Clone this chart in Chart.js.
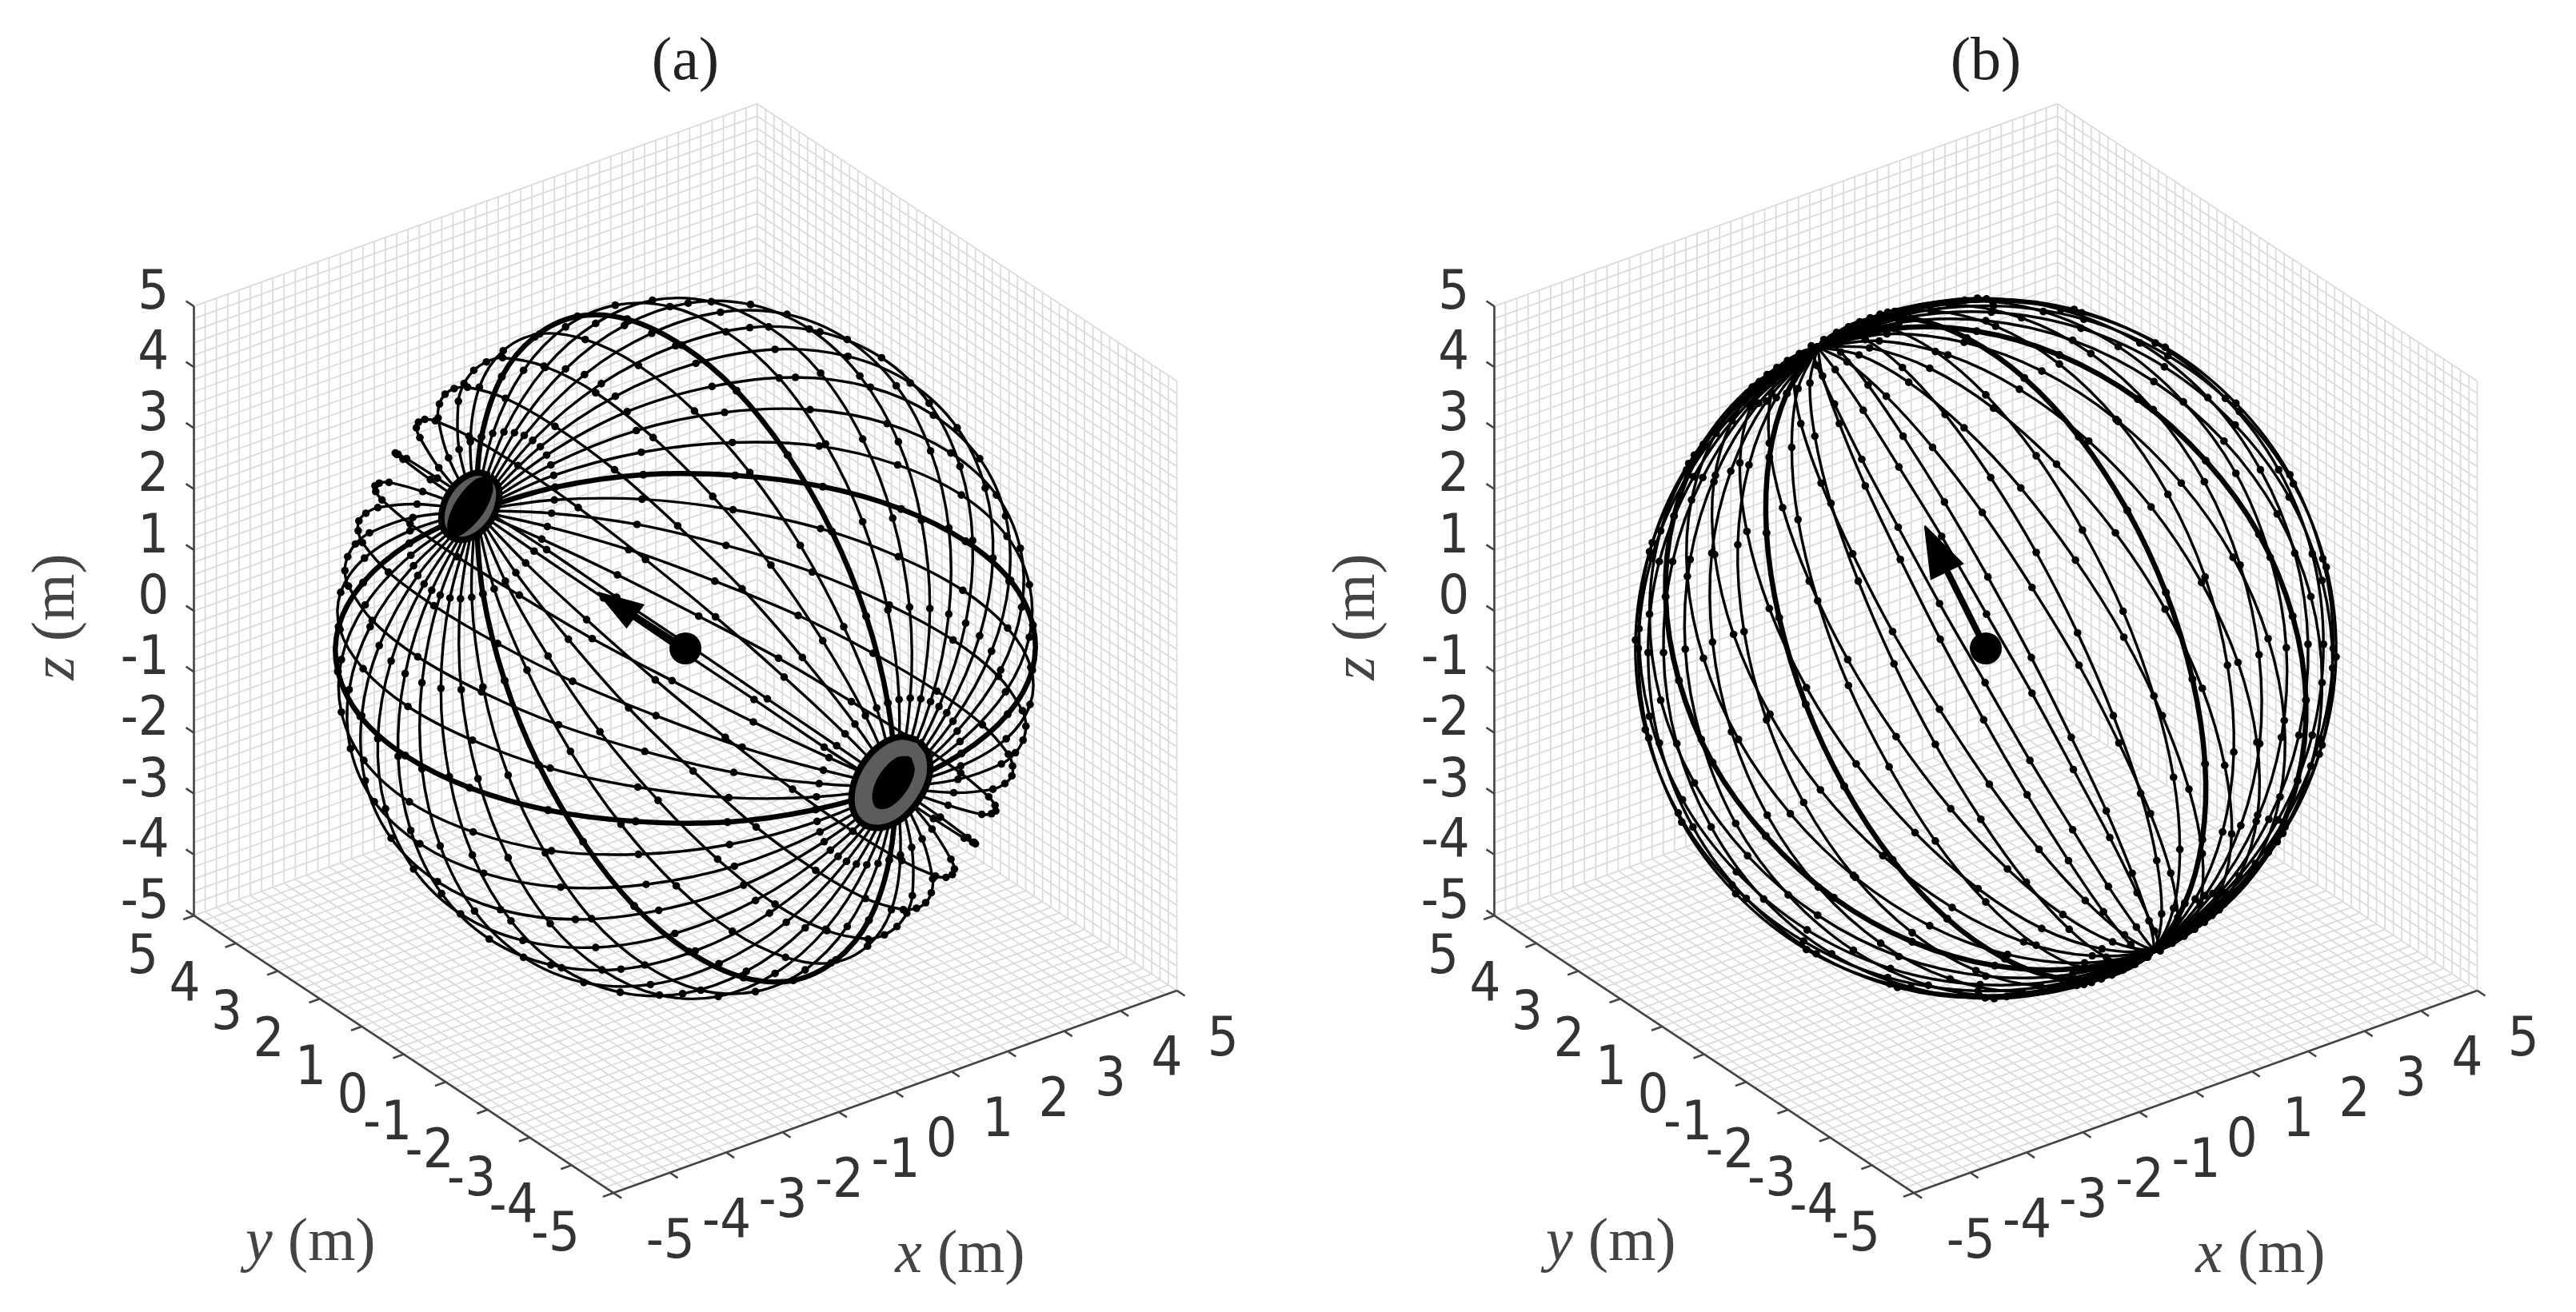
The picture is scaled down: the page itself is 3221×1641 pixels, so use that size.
<!DOCTYPE html>
<html><head><meta charset="utf-8">
<style>html,body{margin:0;padding:0;background:#fff;width:3221px;height:1641px;overflow:hidden}
canvas{position:absolute;top:0;filter:blur(.7px)}</style>
<script src="https://cdn.jsdelivr.net/npm/chart.js@4"></script></head><body>
<canvas id="ca" width="1610" height="1641" style="left:0"></canvas>
<canvas id="cb" width="1611" height="1641" style="left:1610px"></canvas>
<script>
// Projected positions (m in the view plane, sphere centre = 0,0): u,v,u,v,...
const a01=[-3,1.97,-3.64,2.41,-4.03,2.7,-4.12,2.77,-4.14,2.79,-4.1,2.77,-3.98,2.71,-3.54,2.43,-2.86,1.98,-1.98,1.41,-.98,.73,.1,.01,1.17,-.72,2.16,-1.39,3,-1.97,3.64,-2.41,4.03,-2.7,4.12,-2.77,4.14,-2.79,4.1,-2.77,3.98,-2.71,3.54,-2.43,2.86,-1.98,1.98,-1.41,.98,-.73,-.1,-.01,-1.17,.72,-2.16,1.39];
const a02=[-3,1.97,-3.52,2.58,-3.79,3.01,-3.84,3.15,-3.81,3.23,-3.72,3.27,-3.57,3.25,-3.09,3.03,-2.39,2.61,-1.53,2.01,-.57,1.27,.43,.45,1.41,-.41,2.28,-1.22,3,-1.97,3.52,-2.58,3.79,-3.01,3.84,-3.15,3.81,-3.23,3.72,-3.27,3.57,-3.25,3.09,-3.03,2.39,-2.61,1.53,-2.01,.57,-1.27,-.43,-.45,-1.41,.41,-2.28,1.22];
const a03=[-3,1.97,-3.38,2.72,-3.53,3.29,-3.51,3.49,-3.43,3.63,-3.3,3.71,-3.11,3.73,-2.57,3.57,-1.86,3.17,-1.01,2.55,-.11,1.75,.81,.85,1.67,-.13,2.42,-1.08,3,-1.97,3.38,-2.72,3.53,-3.29,3.51,-3.49,3.43,-3.63,3.3,-3.71,3.11,-3.73,2.57,-3.57,1.86,-3.17,1.01,-2.55,.11,-1.75,-.81,-.85,-1.67,.13,-2.42,1.08];
const a04=[-3,1.97,-3.23,2.84,-3.24,3.53,-3.16,3.78,-3.02,3.97,-2.84,4.09,-2.61,4.15,-2.02,4.03,-1.28,3.65,-.46,3.01,.39,2.17,1.22,1.19,1.96,.11,2.57,-.96,3,-1.97,3.23,-2.84,3.24,-3.53,3.16,-3.78,3.02,-3.97,2.84,-4.09,2.61,-4.15,2.02,-4.03,1.28,-3.65,.46,-3.01,-.39,-2.17,-1.22,-1.19,-1.96,-.11,-2.57,.96];
const a05=[-3,1.97,-3.07,2.95,-2.94,3.73,-2.6,4.25,-2.08,4.49,-1.43,4.41,-.67,4.04,.13,3.39,.92,2.51,1.64,1.47,2.26,.31,2.73,-.85,3,-1.97,3.07,-2.95,2.94,-3.73,2.6,-4.25,2.08,-4.49,1.43,-4.41,.67,-4.04,-.13,-3.39,-.92,-2.51,-1.64,-1.47,-2.26,-.31,-2.73,.85];
const a06=[-3,1.97,-2.91,3.02,-2.62,3.88,-2.15,4.45,-1.54,4.74,-.83,4.7,-.05,4.33,.73,3.68,1.46,2.76,2.09,1.67,2.58,.46,2.89,-.78,3,-1.97,2.91,-3.02,2.62,-3.88,2.15,-4.45,1.54,-4.74,.83,-4.7,.05,-4.33,-.73,-3.68,-1.46,-2.76,-2.09,-1.67,-2.58,-.46,-2.89,.78];
const a07=[-3,1.97,-2.75,3.07,-2.31,3.97,-1.71,4.59,-1,4.9,-.22,4.88,.58,4.52,1.34,3.86,2,2.92,2.53,1.81,2.89,.55,3.05,-.73,3,-1.97,2.75,-3.07,2.31,-3.97,1.71,-4.59,1,-4.9,.22,-4.88,-.58,-4.52,-1.34,-3.86,-2,-2.92,-2.53,-1.81,-2.89,-.55,-3.05,.73];
const a08=[-3,1.97,-2.59,3.09,-2,4.01,-1.28,4.64,-.47,4.97,.37,4.95,1.19,4.59,1.93,3.93,2.53,2.99,2.96,1.86,3.2,.59,3.21,-.71,3,-1.97,2.59,-3.09,2,-4.01,1.28,-4.64,.47,-4.97,-.37,-4.95,-1.19,-4.59,-1.93,-3.93,-2.53,-2.99,-2.96,-1.86,-3.2,-.59,-3.21,.71];
const a09=[-3,1.97,-2.44,3.08,-1.71,3.99,-.87,4.61,.04,4.93,.93,4.91,1.77,4.56,2.49,3.89,3.04,2.95,3.37,1.83,3.49,.57,3.36,-.72,3,-1.97,2.44,-3.08,1.71,-3.99,.87,-4.61,-.04,-4.93,-.93,-4.91,-1.77,-4.56,-2.49,-3.89,-3.04,-2.95,-3.37,-1.83,-3.49,-.57,-3.36,.72];
const a10=[-3,1.97,-2.3,3.04,-1.44,3.91,-.48,4.5,.5,4.8,1.45,4.77,2.31,4.41,3.01,3.75,3.5,2.82,3.76,1.72,3.76,.49,3.5,-.76,3,-1.97,2.3,-3.04,1.44,-3.91,.48,-4.5,-.5,-4.8,-1.45,-4.77,-2.31,-4.41,-3.01,-3.75,-3.5,-2.82,-3.76,-1.72,-3.76,-.49,-3.5,.76];
const a11=[-3,1.97,-2.18,2.97,-1.2,3.78,-.14,4.32,.92,4.58,1.92,4.52,2.8,4.15,3.48,3.5,3.92,2.6,4.1,1.54,4,.36,3.62,-.83,3,-1.97,2.18,-2.97,1.2,-3.78,.14,-4.32,-.92,-4.58,-1.92,-4.52,-2.8,-4.15,-3.48,-3.5,-3.92,-2.6,-4.1,-1.54,-4,-.36,-3.62,.83];
const a12=[-3,1.97,-2.07,2.88,-1,3.6,.15,4.07,1.28,4.27,2.32,4.17,3.21,3.79,3.88,3.15,4.28,2.29,4.39,1.29,4.2,.18,3.73,-.92,3,-1.97,2.07,-2.88,1,-3.6,-.15,-4.07,-1.28,-4.27,-2.32,-4.17,-3.21,-3.79,-3.88,-3.15,-4.28,-2.29,-4.39,-1.29,-4.2,-.18,-3.73,.92];
const a13=[-3,1.97,-1.98,2.76,-.83,3.38,.38,3.74,1.57,3.87,2.64,3.73,3.54,3.33,4.2,2.71,4.57,1.89,4.62,.96,4.37,-.04,3.82,-1.04,3,-1.97,1.98,-2.76,.83,-3.38,-.38,-3.74,-1.57,-3.87,-2.64,-3.73,-3.54,-3.33,-4.2,-2.71,-4.57,-1.89,-4.62,-.96,-4.37,.04,-3.82,1.04];
const a14=[-3,1.97,-1.92,2.62,-.7,3.11,.56,3.37,1.78,3.41,2.88,3.21,3.79,2.79,4.44,2.19,4.78,1.43,4.8,.59,4.5,-.31,3.88,-1.18,3,-1.97,1.92,-2.62,.7,-3.11,-.56,-3.37,-1.78,-3.41,-2.88,-3.21,-3.79,-2.79,-4.44,-2.19,-4.78,-1.43,-4.8,-.59,-4.5,.31,-3.88,1.18];
const a15=[-3,1.97,-1.88,2.47,-.63,2.8,.67,2.94,1.91,2.89,3.03,2.62,3.94,2.19,4.59,1.6,4.91,.91,4.91,.16,4.57,-.62,3.92,-1.33,3,-1.97,1.88,-2.47,.63,-2.8,-.67,-2.94,-1.91,-2.89,-3.03,-2.62,-3.94,-2.19,-4.59,-1.6,-4.91,-.91,-4.91,-.16,-4.57,.62,-3.92,1.33];
const a16=[-3,1.97,-1.86,2.3,-.6,2.48,.71,2.47,1.96,2.31,3.08,1.99,4,1.53,4.64,.97,4.96,.33,4.95,-.31,4.6,-.94,3.94,-1.5,3,-1.97,1.86,-2.3,.6,-2.48,-.71,-2.47,-1.96,-2.31,-3.08,-1.99,-4,-1.53,-4.64,-.97,-4.96,-.33,-4.95,.31,-4.6,.94,-3.94,1.5];
const a17=[-3,1.97,-1.87,2.12,-.62,2.13,.68,1.98,1.93,1.71,3.04,1.31,3.96,.83,4.6,.29,4.93,-.27,4.92,-.8,4.58,-1.29,3.93,-1.68,3,-1.97,1.87,-2.12,.62,-2.13,-.68,-1.98,-1.93,-1.71,-3.04,-1.31,-3.96,-.83,-4.6,-.29,-4.93,.27,-4.92,.8,-4.58,1.29,-3.93,1.68];
const a18=[-3,1.97,-1.91,1.93,-.69,1.77,.58,1.47,1.81,1.09,2.91,.62,3.82,.12,4.47,-.4,4.81,-.89,4.86,-1.11,4.82,-1.31,4.71,-1.49,4.51,-1.65,3.89,-1.87,3,-1.97,1.91,-1.93,.69,-1.77,-.58,-1.47,-1.81,-1.09,-2.91,-.62,-3.82,-.12,-4.47,.4,-4.81,.89,-4.86,1.11,-4.82,1.31,-4.71,1.49,-4.51,1.65,-3.89,1.87];
const a19=[-3,1.97,-1.97,1.74,-.81,1.41,.42,.96,1.61,.47,2.68,-.07,3.59,-.61,4.24,-1.09,4.61,-1.51,4.67,-1.68,4.66,-1.82,4.56,-1.93,4.39,-2.01,3.83,-2.06,3,-1.97,1.97,-1.74,.81,-1.41,-.42,-.96,-1.61,-.47,-2.68,.07,-3.59,.61,-4.24,1.09,-4.61,1.51,-4.67,1.68,-4.66,1.82,-4.56,1.93,-4.39,2.01,-3.83,2.06];
const a20=[-3,1.97,-2.05,1.56,-.97,1.05,.19,.46,1.33,-.14,2.37,-.76,3.26,-1.31,3.93,-1.78,4.33,-2.12,4.42,-2.24,4.43,-2.32,4.37,-2.36,4.23,-2.37,3.75,-2.24,3,-1.97,2.05,-1.56,.97,-1.05,-.19,-.46,-1.33,.14,-2.37,.76,-3.26,1.31,-3.93,1.78,-4.33,2.12,-4.42,2.24,-4.43,2.32,-4.37,2.36,-4.23,2.37,-3.75,2.24];
const b01=[-2.4,4.3,-1.2,4.79,.09,4.96,1.37,4.79,2.56,4.3,3.57,3.5,4.34,2.48,4.81,1.28,4.96,0,4.77,-1.29,4.25,-2.48,3.44,-3.51,2.4,-4.3,1.2,-4.79,-.09,-4.96,-1.37,-4.79,-2.56,-4.3,-3.57,-3.5,-4.34,-2.48,-4.81,-1.28,-4.96,0,-4.77,1.29,-4.25,2.48,-3.44,3.51];
const b02=[-2.4,4.3,-1.24,4.81,.01,4.99,1.26,4.84,2.42,4.36,3.42,3.57,4.18,2.55,4.66,1.35,4.82,.06,4.66,-1.24,4.17,-2.45,3.4,-3.49,2.4,-4.3,1.24,-4.81,-.01,-4.99,-1.26,-4.84,-2.42,-4.36,-3.42,-3.57,-4.18,-2.55,-4.66,-1.35,-4.82,-.06,-4.66,1.24,-4.17,2.45,-3.4,3.49];
const b03=[-2.4,4.3,-1.3,4.81,-.12,5,1.07,4.84,2.2,4.36,3.17,3.58,3.92,2.55,4.41,1.36,4.6,.06,4.47,-1.24,4.04,-2.44,3.34,-3.49,2.4,-4.3,1.3,-4.81,.12,-5,-1.07,-4.84,-2.2,-4.36,-3.17,-3.58,-3.92,-2.55,-4.41,-1.36,-4.6,-.06,-4.47,1.24,-4.04,2.44,-3.34,3.49];
const b04=[-2.4,4.3,-1.4,4.8,-.3,4.97,.82,4.81,1.89,4.31,2.82,3.52,3.57,2.5,4.06,1.3,4.29,.01,4.22,-1.27,3.86,-2.47,3.24,-3.5,2.4,-4.3,1.4,-4.8,.3,-4.97,-.82,-4.81,-1.89,-4.31,-2.82,-3.52,-3.57,-2.5,-4.06,-1.3,-4.29,-.01,-4.22,1.27,-3.86,2.47,-3.24,3.5];
const b05=[-2.4,4.3,-1.51,4.77,-.52,4.91,.51,4.72,1.5,4.21,2.39,3.41,3.12,2.38,3.63,1.19,3.9,-.09,3.91,-1.36,3.64,-2.53,3.13,-3.53,2.4,-4.3,1.51,-4.77,.52,-4.91,-.51,-4.72,-1.5,-4.21,-2.39,-3.41,-3.12,-2.38,-3.63,-1.19,-3.9,.09,-3.91,1.36,-3.64,2.53,-3.13,3.53];
const b06=[-2.4,4.3,-1.65,4.72,-.78,4.82,.14,4.6,1.05,4.06,1.89,3.24,2.6,2.2,3.13,1.02,3.45,-.24,3.54,-1.48,3.38,-2.62,2.99,-3.58,2.4,-4.3,1.65,-4.72,.78,-4.82,-.14,-4.6,-1.05,-4.06,-1.89,-3.24,-2.6,-2.2,-3.13,-1.02,-3.45,.24,-3.54,1.48,-3.38,2.62,-2.99,3.58];
const b07=[-2.4,4.3,-1.8,4.66,-1.07,4.71,-.27,4.43,.55,3.86,1.33,3.02,2.02,1.97,2.57,.8,2.95,-.44,3.13,-1.65,3.09,-2.73,2.84,-3.64,2.4,-4.3,1.8,-4.66,1.07,-4.71,.27,-4.43,-.55,-3.86,-1.33,-3.02,-2.02,-1.97,-2.57,-.8,-2.95,.44,-3.13,1.65,-3.09,2.73,-2.84,3.64];
const b08=[-2.4,4.3,-1.96,4.59,-1.39,4.57,-.72,4.24,0,3.62,.72,2.75,1.38,1.69,1.96,.53,2.4,-.68,2.68,-1.84,2.77,-2.87,2.68,-3.71,2.4,-4.3,1.96,-4.59,1.39,-4.57,.72,-4.24,0,-3.62,-.72,-2.75,-1.38,-1.69,-1.96,-.53,-2.4,.68,-2.68,1.84,-2.77,2.87,-2.68,3.71];
const b09=[-2.4,4.3,-2.13,4.51,-1.72,4.41,-1.19,4.01,-.58,3.34,.07,2.44,.72,1.37,1.31,.22,1.82,-.96,2.21,-2.07,2.44,-3.03,2.51,-3.79,2.4,-4.3,2.13,-4.51,1.72,-4.41,1.19,-4.01,.58,-3.34,-.07,-2.44,-.72,-1.37,-1.31,-.22,-1.82,.96,-2.21,2.07,-2.44,3.03,-2.51,3.79];
const b10=[-2.4,4.3,-2.31,4.41,-2.07,4.23,-1.68,3.76,-1.18,3.03,-.59,2.09,.03,1.02,.65,-.13,1.22,-1.27,1.72,-2.32,2.09,-3.21,2.33,-3.89,2.4,-4.3,2.31,-4.41,2.07,-4.23,1.68,-3.76,1.18,-3.03,.59,-2.09,-.03,-1.02,-.65,.13,-1.22,1.27,-1.72,2.32,-2.09,3.21,-2.33,3.89];
const b11=[-2.4,4.3,-2.49,4.32,-2.41,4.04,-2.16,3.49,-1.77,2.7,-1.25,1.73,-.66,.64,-.01,-.49,.63,-1.6,1.24,-2.59,1.75,-3.4,2.15,-3.98,2.4,-4.3,2.49,-4.32,2.41,-4.04,2.16,-3.49,1.77,-2.7,1.25,-1.73,.66,-.64,.01,.49,-.63,1.6,-1.24,2.59,-1.75,3.4,-2.15,3.98];
const b12=[-2.4,4.3,-2.66,4.21,-2.74,3.84,-2.64,3.21,-2.35,2.36,-1.9,1.35,-1.33,.24,-.66,-.87,.05,-1.94,.76,-2.87,1.42,-3.6,1.98,-4.09,2.4,-4.3,2.66,-4.21,2.74,-3.84,2.64,-3.21,2.35,-2.36,1.9,-1.35,1.33,-.24,.66,.87,-.05,1.94,-.76,2.87,-1.42,3.6,-1.98,4.09];
const b13=[-2.4,4.3,-2.83,4.11,-3.06,3.64,-3.09,2.93,-2.9,2.01,-2.52,.96,-1.97,-.16,-1.28,-1.26,-.5,-2.29,.31,-3.15,1.1,-3.8,1.81,-4.19,2.4,-4.3,2.83,-4.11,3.06,-3.64,3.09,-2.93,2.9,-2.01,2.52,-.96,1.97,.16,1.28,1.26,.5,2.29,-.31,3.15,-1.1,3.8,-1.81,4.19];
const b14=[-2.4,4.3,-2.98,4.01,-3.36,3.44,-3.51,2.65,-3.41,1.67,-3.09,.57,-2.56,-.56,-1.85,-1.65,-1.01,-2.63,-.11,-3.43,.8,-4,1.66,-4.29,2.4,-4.3,2.98,-4.01,3.36,-3.44,3.51,-2.65,3.41,-1.67,3.09,-.57,2.56,.56,1.85,1.65,1.01,2.63,.11,3.43,-.8,4,-1.66,4.29];
const b15=[-2.4,4.3,-3.12,3.91,-3.62,3.25,-3.88,2.38,-3.87,1.34,-3.6,.2,-3.08,-.94,-2.36,-2.02,-1.47,-2.96,-.48,-3.7,.54,-4.19,1.52,-4.39,2.4,-4.3,3.12,-3.91,3.62,-3.25,3.88,-2.38,3.87,-1.34,3.6,-.2,3.08,.94,2.36,2.02,1.47,2.96,.48,3.7,-.54,4.19,-1.52,4.39];
const b16=[-2.4,4.3,-3.23,3.81,-3.85,3.07,-4.2,2.12,-4.26,1.03,-4.03,-.14,-3.53,-1.3,-2.79,-2.36,-1.86,-3.27,-.8,-3.96,.31,-4.37,1.41,-4.49,2.4,-4.3,3.23,-3.81,3.85,-3.07,4.2,-2.12,4.26,-1.03,4.03,.14,3.53,1.3,2.79,2.36,1.86,3.27,.8,3.96,-.31,4.37,-1.41,4.49];
const b17=[-2.4,4.3,-3.33,3.73,-4.03,2.91,-4.45,1.89,-4.57,.74,-4.38,-.46,-3.9,-1.63,-3.14,-2.68,-2.17,-3.56,-1.05,-4.19,.13,-4.53,1.31,-4.57,2.4,-4.3,3.33,-3.73,4.03,-2.91,4.45,-1.89,4.57,-.74,4.38,.46,3.9,1.63,3.14,2.68,2.17,3.56,1.05,4.19,-.13,4.53,-1.31,4.57];
const b18=[-2.4,4.3,-3.4,3.65,-4.16,2.76,-4.64,1.68,-4.8,.49,-4.64,-.74,-4.16,-1.92,-3.4,-2.96,-2.4,-3.81,-1.24,-4.4,0,-4.68,1.24,-4.65,2.4,-4.3,3.4,-3.65,4.16,-2.76,4.64,-1.68,4.8,-.49,4.64,.74,4.16,1.92,3.4,2.96,2.4,3.81,1.24,4.4,0,4.68,-1.24,4.65];
const b19=[-2.4,4.3,-3.44,3.59,-4.24,2.64,-4.76,1.51,-4.95,.28,-4.8,-.97,-4.33,-2.16,-3.56,-3.19,-2.55,-4.02,-1.36,-4.57,-.08,-4.8,1.2,-4.71,2.4,-4.3,3.44,-3.59,4.24,-2.64,4.76,-1.51,4.95,-.28,4.8,.97,4.33,2.16,3.56,3.19,2.55,4.02,1.36,4.57,.08,4.8,-1.2,4.71];
const b20=[-2.4,4.3,-3.46,3.54,-4.27,2.55,-4.8,1.38,-5,.12,-4.86,-1.16,-4.39,-2.35,-3.62,-3.38,-2.6,-4.18,-1.4,-4.7,-.11,-4.89,1.18,-4.76,2.4,-4.3,3.46,-3.54,4.27,-2.55,4.8,-1.38,5,-.12,4.86,1.16,4.39,2.35,3.62,3.38,2.6,4.18,1.4,4.7,.11,4.89,-1.18,4.76];
const curvesA=[a01,a02,a03,a04,a05,a07,a08,a09,a10,a11,a12,a13,a14,a15,a17,a18,a19,a20];
const boldA=[a06,a16];
const curvesB=[b01,b02,b03,b04,b05,b06,b08,b09,b10,b11,b12,b13,b14,b15,b16,b18,b19,b20];
const boldB=[b07,b17];
const ringsA=[[-2.79,2.47,-2.97,2.51,-3.19,2.42,-3.37,2.23,-3.47,1.98,-3.47,1.75,-3.36,1.6,-3.17,1.55,-2.95,1.64,-2.77,1.83,-2.67,2.08,-2.67,2.31],
 [3.33,-1.31,3.07,-1.26,2.78,-1.38,2.53,-1.65,2.39,-1.98,2.39,-2.3,2.54,-2.51,2.79,-2.56,3.08,-2.44,3.33,-2.17,3.48,-1.84,3.47,-1.52]];
const coresA=[[-2.8,2.45,-2.99,2.39,-3.23,2.13,-3.37,1.81,-3.34,1.61,-3.16,1.67,-2.91,1.93,-2.77,2.25],
 [3.2,-1.56,3.02,-1.58,2.8,-1.8,2.69,-2.08,2.74,-2.26,2.92,-2.24,3.14,-2.02,3.25,-1.74]];
const shaftA=[0,0,-.72,.46], headA=[-1.25,.8,-.6,.62,-.84,.3];
const shaftB=[0,0,-.55,1.1], headB=[-.87,1.75,-.33,1.21,-.78,.99];
const centre=[0,0];
const axisTicks=[-5,-4,-3,-2,-1,0,1,2,3,4,5];
const tickLabels=['-5','-4','-3','-2','-1','0','1','2','3','4','5'];
const gridStep=0.2;
const view={xu:.804,yu:-.599,xv:.289,yv:.396,zv:.87};
const scaleMetre=87.6, centreY=811;

const P=(x,y,z)=>[view.xu*x+view.yu*y, view.xv*x+view.yv*y+view.zv*z];
const pts=f=>{const o=[];for(let i=0;i<f.length;i+=2)o.push({x:f[i],y:f[i+1]});return o;};
const loop=f=>{const o=pts(f);o.push(o[0]);return o;};
const seg=(arr,a,b)=>{const p=P(...a),q=P(...b);arr.push({x:p[0],y:p[1]},{x:q[0],y:q[1]},{x:NaN,y:NaN});};
function gridData(){const g=[];const n=Math.round(10/gridStep);
 for(let i=0;i<=n;i++){const t=-5+i*gridStep;
  seg(g,[t,5,-5],[t,5,5]);seg(g,[-5,5,t],[5,5,t]);
  seg(g,[5,t,-5],[5,t,5]);seg(g,[5,-5,t],[5,5,t]);
  seg(g,[t,-5,-5],[t,5,-5]);seg(g,[-5,t,-5],[5,t,-5]);}
 return g;}
function axisData(){const g=[];const L=.19;
 seg(g,[-5,5,-5],[-5,5,5]);seg(g,[-5,-5,-5],[-5,5,-5]);seg(g,[-5,-5,-5],[5,-5,-5]);
 for(const t of axisTicks){seg(g,[-5,5,t],[-5,5+L,t]);seg(g,[-5,t,-5],[-5-L,t,-5]);seg(g,[t,-5,-5],[t,-5-L,-5]);}
 return g;}
const textPlugin={id:'axisText',afterDatasetsDraw(c,_a,o){
 const g=c.ctx,X=v=>c.scales.x.getPixelForValue(v),Y=v=>c.scales.y.getPixelForValue(v);
 g.save();g.textBaseline='middle';g.textAlign='center';g.fillStyle='#333';
 g.font='68px "DejaVu Sans Condensed","DejaVu Sans"';
 axisTicks.forEach((t,i)=>{const s=tickLabels[i],neg=t<0;
  let p=P(-5,5,t);g.fillText(s,X(p[0]-.58-(neg?.12:0)),Y(p[1]+.17));
  p=P(-5,t,-5);g.fillText(s,X(p[0]-.73-(neg?.1:0)),Y(p[1]-.62));
  p=P(t,-5,-5);g.fillText(s,X(p[0]+.66+(neg?.15:0)),Y(p[1]-.72));});
 const serif='"Liberation Serif","DejaVu Serif"';
 g.fillStyle='#222';g.font='76px '+serif;g.fillText(o.title,X(0),Y(8.35));
 const lab=(v,sub,x,y,rot)=>{g.save();g.translate(X(x),Y(y));if(rot)g.rotate(-Math.PI/2);
  g.fillStyle='#444';g.textAlign='left';g.font='italic 76px '+serif;const a=g.measureText(v).width;
  g.font='76px '+serif;const b=g.measureText(sub).width;const s=-(a+b)/2;
  g.font='italic 76px '+serif;g.fillText(v,s,0);g.font='76px '+serif;g.fillText(sub,s+a,0);g.restore();};
 lab('x',' (m)',3.92,-8.68);lab('y',' (m)',-5.35,-8.51);lab('z',' (m)',-8.96,.45,true);
 g.restore();}};
function make(id,cx,curves,bold,rings,cores,shaft,head,title,w){
 const ds=[];
 ds.push({data:gridData(),borderColor:'rgba(0,0,0,.14)',borderWidth:1.8,pointRadius:0,showLine:true,order:100,spanGaps:false});
 ds.push({data:axisData(),borderColor:'#444',borderWidth:2.6,pointRadius:0,showLine:true,order:90,spanGaps:false});
 for(const f of curves)ds.push({data:loop(f),borderColor:'#000',borderWidth:3.4,pointRadius:4.8,pointBackgroundColor:'#000',pointBorderWidth:0,showLine:true,tension:.34,order:50});
 for(const f of bold)ds.push({data:loop(f),borderColor:'#000',borderWidth:6.5,pointRadius:5,pointBackgroundColor:'#000',pointBorderWidth:0,showLine:true,tension:.34,order:40});
 for(const f of rings)ds.push({data:loop(f),borderColor:'#000',borderWidth:8,backgroundColor:'#5c5c5c',fill:'shape',pointRadius:0,showLine:true,tension:.34,order:20});
 for(const f of cores)ds.push({data:loop(f),borderColor:'#000',borderWidth:4,backgroundColor:'#000',fill:'shape',pointRadius:0,showLine:true,tension:.34,order:15});
 ds.push({data:pts(shaft),borderColor:'#000',borderWidth:8,pointRadius:0,showLine:true,order:10});
 ds.push({data:loop(head),borderColor:'#000',borderWidth:2,backgroundColor:'#000',fill:'shape',pointRadius:0,showLine:true,order:9});
 ds.push({data:pts(centre),pointRadius:20,pointBackgroundColor:'#000',pointBorderWidth:0,showLine:false,order:8});
 const H=1641;
 new Chart(document.getElementById(id),{type:'scatter',data:{datasets:ds},plugins:[textPlugin],
  options:{responsive:false,animation:false,devicePixelRatio:1,layout:{padding:0,autoPadding:false},events:[],
   plugins:{legend:{display:false},tooltip:{enabled:false},title:{display:false},axisText:{title}},
   scales:{x:{type:'linear',display:false,min:-cx/scaleMetre,max:(w-cx)/scaleMetre},
           y:{type:'linear',display:false,min:-(H-centreY)/scaleMetre,max:centreY/scaleMetre}}}});
}
make('ca',857,curvesA,boldA,ringsA,coresA,shaftA,headA,'(a)',1610);
make('cb',873,curvesB,boldB,[],[],shaftB,headB,'(b)',1611);
</script></body></html>
